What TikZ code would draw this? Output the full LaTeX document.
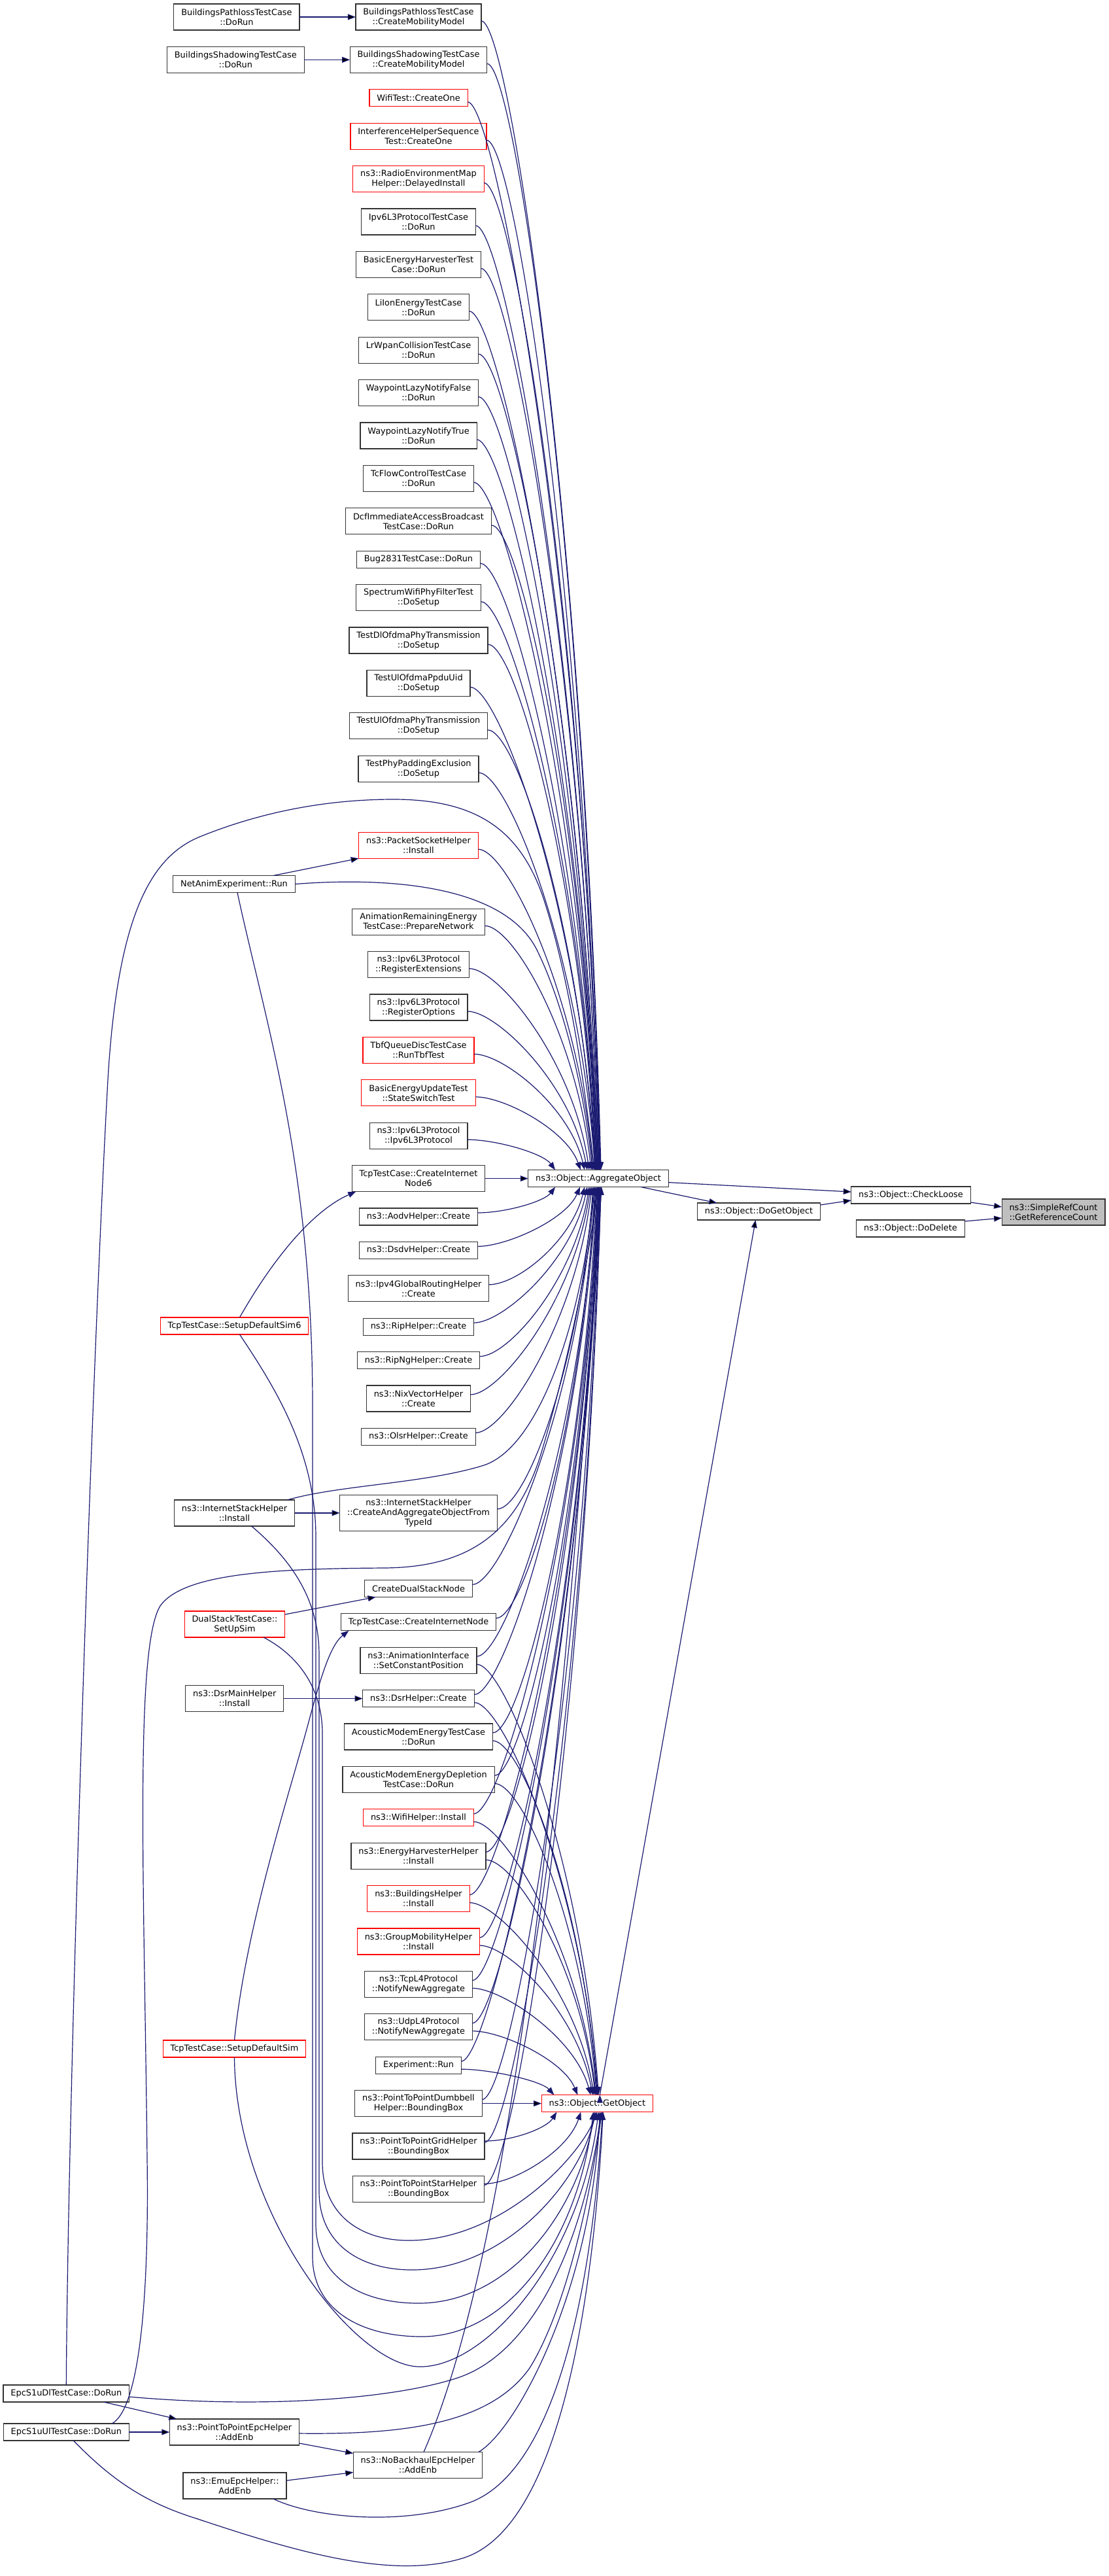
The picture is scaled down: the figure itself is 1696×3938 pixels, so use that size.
\documentclass[tikz,border=0pt]{standalone}
\usepackage{fontspec}
\setmainfont{DejaVu Sans}
\usepackage{tikz}
\usetikzlibrary{arrows.meta,calc,positioning}
\definecolor{edgeblue}{RGB}{25,25,112}
\tikzset{
    %Define standard arrow tip
    >={Triangle[length=6pt,width=4.4pt]},
    %Define style for boxes
    callerrect/.style={
           rectangle,
           draw=black!80, line width=0.6pt,
           fill=white,
           inner xsep=5.7pt, inner ysep=0pt, outer sep=0pt,
           minimum height=13pt,
           font=\fontsize{6.45}{7.5}\selectfont,
           align=center},
    truncrect/.style={
           callerrect,
           draw=red},
    targetrect/.style={
           callerrect,
           fill=black!25},
    dbl/.style={minimum height=20pt},
    tpl/.style={minimum height=27.5pt},
    % Define arrow style
    callarrow/.style={
           ->,
           draw=edgeblue,
           line width=0.6pt}
}
\begin{document}
\begin{tikzpicture}[x=0.5pt,y=-0.5pt,node distance=12.7pt]
\path[use as bounding box, fill=white] (0,0) rectangle (1696,3938);

 %nodes
\node[callerrect, dbl] (bpCreate) at (640,26) {BuildingsPathlossTestCase\\::CreateMobilityModel};
\node[callerrect, dbl, below=of bpCreate] (bsCreate) {BuildingsShadowingTestCase\\::CreateMobilityModel};
\node[truncrect, below=of bsCreate] (wifiOne) {WifiTest::CreateOne};
\node[truncrect, dbl, below=of wifiOne] (interf) {InterferenceHelperSequence\\Test::CreateOne};
\node[truncrect, dbl, below=of interf] (remHelper) {ns3::RadioEnvironmentMap\\Helper::DelayedInstall};
\node[callerrect, dbl, below=of remHelper] (ipv6Test) {Ipv6L3ProtocolTestCase\\::DoRun};
\node[callerrect, dbl, below=of ipv6Test] (harvTest) {BasicEnergyHarvesterTest\\Case::DoRun};
\node[callerrect, dbl, below=of harvTest] (liIon) {LiIonEnergyTestCase\\::DoRun};
\node[callerrect, dbl, below=of liIon] (lrWpan) {LrWpanCollisionTestCase\\::DoRun};
\node[callerrect, dbl, below=of lrWpan] (wpFalse) {WaypointLazyNotifyFalse\\::DoRun};
\node[callerrect, dbl, below=of wpFalse] (wpTrue) {WaypointLazyNotifyTrue\\::DoRun};
\node[callerrect, dbl, below=of wpTrue] (tcFlow) {TcFlowControlTestCase\\::DoRun};
\node[callerrect, dbl, below=of tcFlow] (dcf) {DcfImmediateAccessBroadcast\\TestCase::DoRun};
\node[callerrect, below=of dcf] (bug2831) {Bug2831TestCase::DoRun};
\node[callerrect, dbl, below=of bug2831] (specWifi) {SpectrumWifiPhyFilterTest\\::DoSetup};
\node[callerrect, dbl, below=of specWifi] (dlOfdma) {TestDlOfdmaPhyTransmission\\::DoSetup};
\node[callerrect, dbl, below=of dlOfdma] (ulPpdu) {TestUlOfdmaPpduUid\\::DoSetup};
\node[callerrect, dbl, below=of ulPpdu] (ulOfdma) {TestUlOfdmaPhyTransmission\\::DoSetup};
\node[callerrect, dbl, below=of ulOfdma] (padding) {TestPhyPaddingExclusion\\::DoSetup};
\node[truncrect, dbl, below=38.5pt of padding] (pktSock) {ns3::PacketSocketHelper\\::Install};
\node[callerrect, dbl, below=38.5pt of pktSock] (animEnergy) {AnimationRemainingEnergy\\TestCase::PrepareNetwork};
\node[callerrect, dbl, below=of animEnergy] (regExt) {ns3::Ipv6L3Protocol\\::RegisterExtensions};
\node[callerrect, dbl, below=of regExt] (regOpt) {ns3::Ipv6L3Protocol\\::RegisterOptions};
\node[truncrect, dbl, below=of regOpt] (tbf) {TbfQueueDiscTestCase\\::RunTbfTest};
\node[truncrect, dbl, below=of tbf] (basicUpd) {BasicEnergyUpdateTest\\::StateSwitchTest};
\node[callerrect, dbl, below=of basicUpd] (ipv6Ctor) {ns3::Ipv6L3Protocol\\::Ipv6L3Protocol};
\node[callerrect, dbl, below=of ipv6Ctor] (inode6) {TcpTestCase::CreateInternet\\Node6};
\node[callerrect, below=of inode6] (aodv) {ns3::AodvHelper::Create};
\node[callerrect, below=of aodv] (dsdv) {ns3::DsdvHelper::Create};
\node[callerrect, dbl, below=of dsdv] (ipv4Global) {ns3::Ipv4GlobalRoutingHelper\\::Create};
\node[callerrect, below=of ipv4Global] (rip) {ns3::RipHelper::Create};
\node[callerrect, below=of rip] (ripNg) {ns3::RipNgHelper::Create};
\node[callerrect, dbl, below=of ripNg] (nixVec) {ns3::NixVectorHelper\\::Create};
\node[callerrect, below=of nixVec] (olsr) {ns3::OlsrHelper::Create};
\node[callerrect, tpl, below=38pt of olsr] (aggTypeId) {ns3::InternetStackHelper\\::CreateAndAggregateObjectFrom\\TypeId};
\node[callerrect, below=37.5pt of aggTypeId] (dualNode) {CreateDualStackNode};
\node[callerrect, below=of dualNode] (inode) {TcpTestCase::CreateInternetNode};
\node[callerrect, dbl, below=of inode] (constPos) {ns3::AnimationInterface\\::SetConstantPosition};
\node[callerrect, below=of constPos] (dsrCreate) {ns3::DsrHelper::Create};
\node[callerrect, dbl, below=of dsrCreate] (acoustic) {AcousticModemEnergyTestCase\\::DoRun};
\node[callerrect, dbl, below=of acoustic] (acDepletion) {AcousticModemEnergyDepletion\\TestCase::DoRun};
\node[truncrect, below=of acDepletion] (wifiInst) {ns3::WifiHelper::Install};
\node[callerrect, dbl, below=of wifiInst] (harvInst) {ns3::EnergyHarvesterHelper\\::Install};
\node[truncrect, dbl, below=of harvInst] (bldInst) {ns3::BuildingsHelper\\::Install};
\node[truncrect, dbl, below=of bldInst] (grpMob) {ns3::GroupMobilityHelper\\::Install};
\node[callerrect, dbl, below=of grpMob] (tcpL4) {ns3::TcpL4Protocol\\::NotifyNewAggregate};
\node[callerrect, dbl, below=of tcpL4] (udpL4) {ns3::UdpL4Protocol\\::NotifyNewAggregate};
\node[callerrect, below=of udpL4] (expRun) {Experiment::Run};
\node[callerrect, dbl, below=of expRun] (dumbbell) {ns3::PointToPointDumbbell\\Helper::BoundingBox};
\node[callerrect, dbl, below=of dumbbell] (grid) {ns3::PointToPointGridHelper\\::BoundingBox};
\node[callerrect, dbl, below=of grid] (star) {ns3::PointToPointStarHelper\\::BoundingBox};
\node[callerrect, dbl] (noBackhaul) at (639,3768.5) {ns3::NoBackhaulEpcHelper\\::AddEnb};

\node[callerrect, dbl, left=43pt of bpCreate] (bpRun) {BuildingsPathlossTestCase\\::DoRun};
\node[callerrect, dbl, left=35pt of bsCreate] (bsRun) {BuildingsShadowingTestCase\\::DoRun};
\node[callerrect] (netAnim) at (358,1351.5) {NetAnimExperiment::Run};
\node[truncrect] (setup6) at (358.5,2027) {TcpTestCase::SetupDefaultSim6};
\node[callerrect, dbl, left=34.5pt of aggTypeId] (ishInst) {ns3::InternetStackHelper\\::Install};
\node[truncrect, dbl] (dualSetup) at (359,2483) {DualStackTestCase::\\SetUpSim};
\node[callerrect, dbl, left=60.5pt of dsrCreate] (dsrMain) {ns3::DsrMainHelper\\::Install};
\node[truncrect] (setup) at (358.5,3132) {TcpTestCase::SetupDefaultSim};
\node[callerrect, dbl] (p2pEpc) at (358.5,3718) {ns3::PointToPointEpcHelper\\::AddEnb};
\node[callerrect, dbl] (emuEpc) at (359,3800) {ns3::EmuEpcHelper::\\AddEnb};
\node[callerrect, left=31pt of p2pEpc] (s1uUl) {EpcS1uUlTestCase::DoRun};
\node[callerrect, above=16.5pt of s1uUl] (s1uDl) {EpcS1uDlTestCase::DoRun};

\node[callerrect, right=33pt of inode6] (agg) {ns3::Object::AggregateObject};
\node[truncrect, right=45.5pt of dumbbell] (getObj) {ns3::Object::GetObject};
\node[callerrect] (doGet) at (1160.5,1852) {ns3::Object::DoGetObject};
\node[callerrect] (checkLoose) at (1393,1827) {ns3::Object::CheckLoose};
\node[targetrect, dbl] (refCount) at (1611,1853) {ns3::SimpleRefCount\\::GetReferenceCount};
\node[callerrect] (doDelete) at (1392.5,1878) {ns3::Object::DoDelete};

 %edges into AggregateObject
\foreach \v/\o in {bpCreate/4, bsCreate/3, wifiOne/3, interf/2, remHelper/2, ipv6Test/1,
    harvTest/1, liIon/0, lrWpan/0, wpFalse/-1, wpTrue/-1, tcFlow/-2, dcf/-2, bug2831/-3,
    specWifi/-3, dlOfdma/-4, ulPpdu/-4, ulOfdma/-5, padding/-5, pktSock/-8, animEnergy/-11,
    regExt/-14, regOpt/-17, tbf/-21, basicUpd/-27, ipv6Ctor/-66}
  \draw[callarrow] let \p1=($(\v.east)+(0,6)$), \p2=($(agg.north)+(\o,0)$) in
    (\p1) .. controls +(22pt,0pt) and ($(\p2)!0.55!({\x2-0.25*(\x2-\x1)},\y1)$) .. (\p2);
\foreach \v/\o in {aodv/-66, dsdv/-28, ipv4Global/-21, rip/-17, ripNg/-14, nixVec/-12,
    olsr/-10, aggTypeId/-8, dualNode/-6, inode/-5, constPos/-4, dsrCreate/-3, acoustic/-2,
    acDepletion/-1, wifiInst/0, harvInst/0, bldInst/1, grpMob/1, tcpL4/2, udpL4/2,
    expRun/3, dumbbell/3, grid/4, star/4}
  \draw[callarrow] let \p1=($(\v.east)+(0,-6)$), \p2=($(agg.south)+(\o,0)$) in
    (\p1) .. controls +(22pt,0pt) and ($(\p2)!0.55!({\x2-0.25*(\x2-\x1)},\y1)$) .. (\p2);

 %edges into GetObject
\foreach \v/\o in {constPos/2, dsrCreate/1, acoustic/0, acDepletion/-1, wifiInst/-2,
    harvInst/-3, bldInst/-5, grpMob/-7, tcpL4/-10, udpL4/-30, expRun/-66}
  \draw[callarrow] let \p1=($(\v.east)+(0,6)$), \p2=($(getObj.north)+(\o,0)$) in
    (\p1) .. controls +(22pt,0pt) and ($(\p2)!0.55!({\x2-0.25*(\x2-\x1)},\y1)$) .. (\p2);
\foreach \v/\o in {grid/-62, star/-25}
  \draw[callarrow] let \p1=($(\v.east)+(0,-8)$), \p2=($(getObj.south)+(\o,0)$) in
    (\p1) .. controls +(22pt,0pt) and ($(\p2)!0.55!({\x2-0.25*(\x2-\x1)},\y1)$) .. (\p2);

 %straight calls
\path[callarrow]
    (bpRun) edge (bpCreate)
    (bsRun) edge (bsCreate)
    (ishInst) edge (aggTypeId)
    (dsrMain) edge (dsrCreate)
    (s1uUl) edge (p2pEpc)
    (inode6) edge (agg)
    (dumbbell) edge (getObj)
    ($(netAnim.north)+(60,0)$) edge (pktSock.south west)
    ($(dualSetup.north east)+(0,5)$) edge ($(dualNode.south west)+(17,0)$)
    ($(s1uDl.south east)+(-39,0)$) edge ($(p2pEpc.north west)+(11,0)$)
    ($(p2pEpc.south east)+(0,-3)$) edge ($(noBackhaul.north west)+(0,2)$)
    ($(emuEpc.east)+(0,-8)$) edge ($(noBackhaul.west)+(0,11)$)
    ($(agg.east)+(0,6)$) edge ($(checkLoose.west)+(0,-5)$)
    ($(agg.south east)+(-42,0)$) edge ($(doGet.north west)+(30,0)$)
    ($(doGet.east)+(0,-10)$) edge ($(checkLoose.west)+(0,8)$)
    ($(checkLoose.east)+(0,11)$) edge ($(refCount.west)+(0,-8)$)
    ($(doDelete.east)+(0,-11)$) edge ($(refCount.west)+(0,9)$)
    ($(getObj.north)+(4,0)$) edge ($(doGet.south)+(-5,0)$);

 %long detours
\draw[callarrow] (netAnim.east) .. controls (600,1340) and (770,1355) .. (820,1450)
    .. controls (865,1540) and (895,1680) .. ($(agg.north)+(-9,0)$);
\draw[callarrow] (s1uDl.north) .. controls (104,3200) and (140,2100) .. (165,1650)
    .. controls (180,1400) and (230,1310) .. (306,1279)
    .. controls (400,1241) and (500,1222) .. (602,1222)
    .. controls (730,1222) and (795,1270) .. (830,1370)
    .. controls (870,1490) and (893,1650) .. ($(agg.north)+(-6,0)$);
\draw[callarrow] ($(s1uUl.north east)+(-26,0)$) .. controls (215,3680) and (228,3500) .. (225,3300)
    .. controls (221,2900) and (205,2520) .. (245,2455)
    .. controls (280,2405) and (420,2398) .. (587,2397)
    .. controls (710,2396) and (785,2350) .. (825,2230)
    .. controls (865,2100) and (900,1930) .. ($(agg.south)+(-1,0)$);
\draw[callarrow] ($(ishInst.north east)+(-11,0)$) .. controls (520,2270) and (650,2268) .. (740,2240)
    .. controls (830,2210) and (893,2000) .. ($(agg.south)+(-7,0)$);
\draw[callarrow] ($(noBackhaul.north)+(9,0)$) .. controls (810,3380) and (880,2400) .. ($(agg.south)+(5,0)$);
\draw[callarrow] ($(setup6.north)+(8,0)$) .. controls (420,1920) and (480,1850) .. ($(inode6.south west)+(6,0)$);
\draw[callarrow] (setup.north) .. controls (375,2950) and (440,2750) .. (470,2640)
    .. controls (490,2565) and (505,2515) .. ($(inode.south west)+(12,0)$);

\draw[callarrow] ($(netAnim.south)+(5,0)$) .. controls (405,1560) and (478,1780) .. (478,2150) -- (478,3450)
    .. controls (478,3530) and (550,3572) .. (645,3572)
    .. controls (780,3572) and (885,3420) .. ($(getObj.south)+(-6,0)$);
\draw[callarrow] ($(setup6.south)+(8,0)$) .. controls (420,2120) and (483,2220) .. (483,2350) -- (483,3400)
    .. controls (483,3480) and (550,3521) .. (640,3521)
    .. controls (780,3521) and (885,3380) .. ($(getObj.south)+(-4,0)$);
\draw[callarrow] ($(ishInst.south)+(26,0)$) .. controls (440,2380) and (488,2440) .. (488,2530) -- (488,3350)
    .. controls (488,3430) and (550,3470) .. (630,3470)
    .. controls (770,3470) and (885,3340) .. ($(getObj.south)+(-2,0)$);
\draw[callarrow] ($(dualSetup.south)+(44,0)$) .. controls (455,2530) and (493,2580) .. (493,2650) -- (493,3305)
    .. controls (493,3385) and (550,3425) .. (625,3425)
    .. controls (765,3425) and (885,3300) .. (getObj.south);
\draw[callarrow] (setup.south) .. controls (360,3380) and (540,3615) .. (640,3618)
    .. controls (740,3621) and (885,3460) .. ($(getObj.south)+(2,0)$);
\draw[callarrow] ($(s1uDl.east)+(0,5)$) .. controls (400,3682) and (600,3668) .. (700,3635)
    .. controls (820,3595) and (893,3420) .. ($(getObj.south)+(6,0)$);
\draw[callarrow] ($(p2pEpc.east)+(0,2)$) .. controls (620,3722) and (750,3705) .. (810,3620)
    .. controls (860,3540) and (900,3380) .. ($(getObj.south)+(7,0)$);
\draw[callarrow] ($(emuEpc.south)+(59,0)$) .. controls (480,3850) and (620,3862) .. (720,3825)
    .. controls (850,3775) and (905,3500) .. ($(getObj.south)+(8,0)$);
\draw[callarrow] ($(s1uUl.south)+(11,0)$) .. controls (170,3790) and (220,3825) .. (300,3850)
    .. controls (450,3900) and (600,3945) .. (710,3910)
    .. controls (860,3860) and (908,3500) .. ($(getObj.south)+(9,0)$);
\draw[callarrow] ($(noBackhaul.north east)+(-6,0)$) .. controls (790,3715) and (905,3500) .. ($(getObj.south)+(4,0)$);
\end{tikzpicture}
\end{document}
